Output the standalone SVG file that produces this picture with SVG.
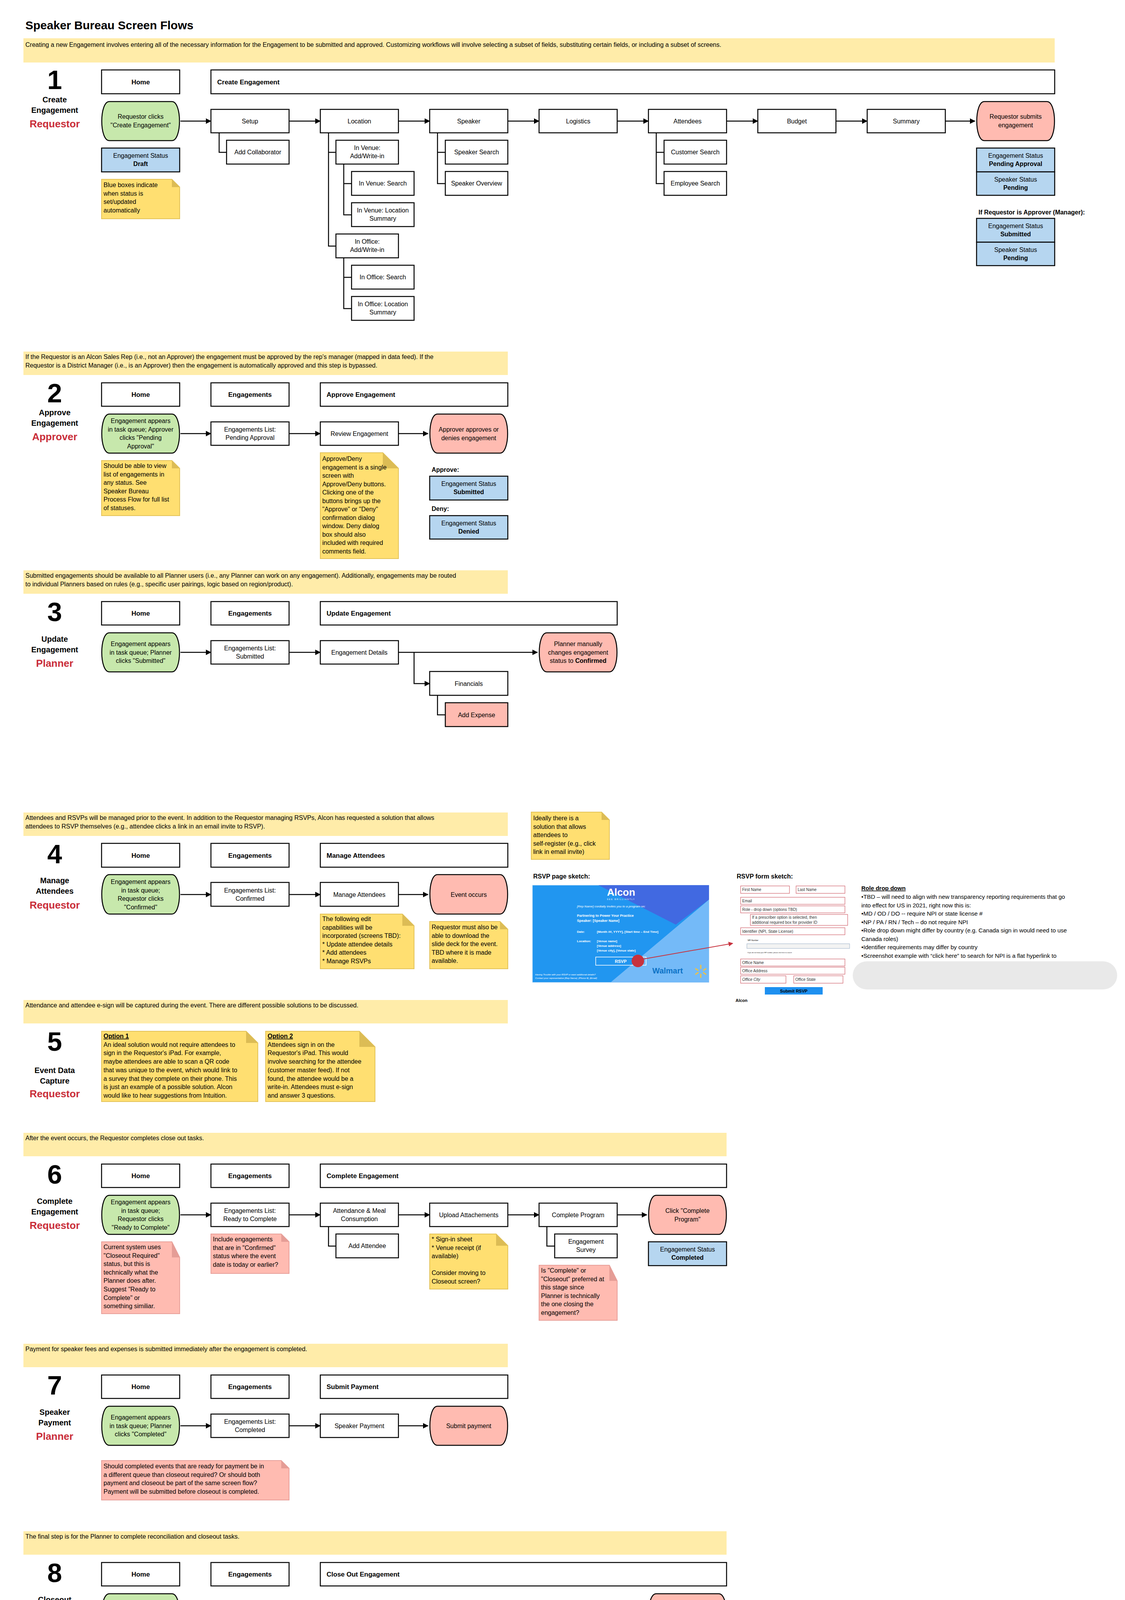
<svg xmlns="http://www.w3.org/2000/svg" width="2880" height="4840" viewBox="0 0 2880 4840">
<style>
text{font-family:"Liberation Sans",Arial,sans-serif;fill:#000}
.box{fill:#fff;stroke:#000;stroke-width:2.5}
.pg{fill:#c7e8ac;stroke:#000;stroke-width:2.5}
.pr{fill:#ffbbb1;stroke:#000;stroke-width:2.5}
.bl{fill:#b6d6f0;stroke:#000;stroke-width:2.5}
.ban{fill:#ffeca9}
.ny{fill:#ffdf71;stroke:#e3c35a;stroke-width:2}
.nyf{fill:#dcbc55}
.nr{fill:#ffbbb1;stroke:#e8a09a;stroke-width:2}
.nrf{fill:#e59d96}
.t{font-size:16px}
.c{text-anchor:middle}
.h{font-size:17px;font-weight:bold}
.num{font-size:68px;font-weight:bold;text-anchor:middle}
.lab{font-size:20px;font-weight:bold;text-anchor:middle}
.role{font-size:26px;font-weight:bold;text-anchor:middle;fill:#c92d39}
.b{font-weight:bold}
.con{fill:none;stroke:#000;stroke-width:2.5}
.arr{marker-end:url(#ah)}
.fld{fill:#fff;stroke:#d0616b;stroke-width:1.2}
.ft{font-size:10px;fill:#333}
.w{fill:#fff}
.role2{font-size:15px}
</style>
<defs>
<marker id="ah" markerUnits="userSpaceOnUse" markerWidth="14" markerHeight="14" refX="13" refY="7" orient="auto"><path d="M0,0 L14,7 L0,14 z" fill="#000"/></marker>
<marker id="ahr" markerUnits="userSpaceOnUse" markerWidth="12" markerHeight="12" refX="11" refY="6" orient="auto"><path d="M0,0 L12,6 L0,12 z" fill="#c7323e"/></marker>
</defs>
<rect width="2880" height="4840" fill="#fff"/>
<text x="65" y="75" font-size="30" font-weight="bold">Speaker Bureau Screen Flows</text>

<!-- ===== Section 1 ===== -->
<g id="s1-banner"><rect class="ban" x="60" y="98" width="2640" height="62"/><text class="t" x="65" y="120">Creating a new Engagement involves entering all of the necessary information for the Engagement to be submitted and approved. Customizing workflows will involve selecting a subset of fields, substituting certain fields, or including a subset of screens.</text></g>
<g id="s1-label"><text class="num" x="140" y="228">1</text><text class="lab" x="140" y="262">Create</text><text class="lab" x="140" y="289">Engagement</text><text class="role" x="140" y="326">Requestor</text></g>
<g id="s1-home"><rect class="box" x="260" y="179" width="200" height="61"/><text class="h c" x="360" y="216">Home</text></g>
<g id="s1-create"><rect class="box" x="540" y="179" width="2160" height="61"/><text class="h" x="556" y="216">Create Engagement</text></g>
<g id="s1-start"><path class="pg" d="M280,260 H440 C466,260 466,360 440,360 H280 C254,360 254,260 280,260 Z"/><text class="t c" x="360" y="304">Requestor clicks<tspan x="360" dy="21.5">"Create Engagement"</tspan></text></g>
<g id="s1-setup"><rect class="box" x="540" y="280" width="200" height="60"/><text class="t c" x="640" y="316">Setup</text></g>
<g id="s1-location"><rect class="box" x="820" y="280" width="200" height="60"/><text class="t c" x="920" y="316">Location</text></g>
<g id="s1-speaker"><rect class="box" x="1100" y="280" width="200" height="60"/><text class="t c" x="1200" y="316">Speaker</text></g>
<g id="s1-logistics"><rect class="box" x="1380" y="280" width="200" height="60"/><text class="t c" x="1480" y="316">Logistics</text></g>
<g id="s1-attendees"><rect class="box" x="1660" y="280" width="200" height="60"/><text class="t c" x="1760" y="316">Attendees</text></g>
<g id="s1-budget"><rect class="box" x="1940" y="280" width="200" height="60"/><text class="t c" x="2040" y="316">Budget</text></g>
<g id="s1-summary"><rect class="box" x="2220" y="280" width="200" height="60"/><text class="t c" x="2320" y="316">Summary</text></g>
<g id="s1-submit"><path class="pr" d="M2520,260 H2680 C2706,260 2706,360 2680,360 H2520 C2494,360 2494,260 2520,260 Z"/><text class="t c" x="2600" y="304">Requestor submits<tspan x="2600" dy="21.5">engagement</tspan></text></g>
<g id="s1-addcollab"><rect class="box" x="580" y="359" width="160" height="61"/><text class="t c" x="660" y="395">Add Collaborator</text></g>
<g id="s1-venue-add"><rect class="box" x="860" y="359" width="160" height="61"/><text class="t c" x="940" y="384">In Venue:<tspan x="940" dy="21">Add/Write-in</tspan></text></g>
<g id="s1-venue-search"><rect class="box" x="900" y="439" width="160" height="61"/><text class="t c" x="980" y="475">In Venue: Search</text></g>
<g id="s1-venue-sum"><rect class="box" x="900" y="519" width="160" height="61"/><text class="t c" x="980" y="544">In Venue: Location<tspan x="980" dy="21">Summary</tspan></text></g>
<g id="s1-office-add"><rect class="box" x="860" y="599" width="160" height="61"/><text class="t c" x="940" y="624">In Office:<tspan x="940" dy="21">Add/Write-in</tspan></text></g>
<g id="s1-office-search"><rect class="box" x="900" y="679" width="160" height="61"/><text class="t c" x="980" y="715">In Office: Search</text></g>
<g id="s1-office-sum"><rect class="box" x="900" y="759" width="160" height="61"/><text class="t c" x="980" y="784">In Office: Location<tspan x="980" dy="21">Summary</tspan></text></g>
<g id="s1-spk-search"><rect class="box" x="1140" y="359" width="160" height="61"/><text class="t c" x="1220" y="395">Speaker Search</text></g>
<g id="s1-spk-over"><rect class="box" x="1140" y="439" width="160" height="61"/><text class="t c" x="1220" y="475">Speaker Overview</text></g>
<g id="s1-cust"><rect class="box" x="1700" y="359" width="160" height="61"/><text class="t c" x="1780" y="395">Customer Search</text></g>
<g id="s1-emp"><rect class="box" x="1700" y="439" width="160" height="61"/><text class="t c" x="1780" y="475">Employee Search</text></g>
<g id="s1-draft"><rect class="bl" x="260" y="379" width="200" height="61"/><text class="t c" x="360" y="404">Engagement Status<tspan x="360" dy="21" class="b">Draft</tspan></text></g>
<g id="s1-note"><path class="ny" d="M260,459 H440 L460,479 V560 H260 Z"/><path class="nyf" d="M440,459 V479 H460 Z"/><text class="t" x="265" y="479">Blue boxes indicate<tspan x="265" dy="21.5">when status is</tspan><tspan x="265" dy="21.5">set/updated</tspan><tspan x="265" dy="21.5">automatically</tspan></text></g>
<g id="s1-status1"><rect class="bl" x="2500" y="379" width="200" height="61"/><text class="t c" x="2600" y="404">Engagement Status<tspan x="2600" dy="21" class="b">Pending Approval</tspan></text></g>
<g id="s1-status2"><rect class="bl" x="2500" y="440" width="200" height="60"/><text class="t c" x="2600" y="465">Speaker Status<tspan x="2600" dy="21" class="b">Pending</tspan></text></g>
<text x="2505" y="549" font-size="16" font-weight="bold">If Requestor is Approver (Manager):</text>
<g id="s1-status3"><rect class="bl" x="2500" y="559" width="200" height="61"/><text class="t c" x="2600" y="584">Engagement Status<tspan x="2600" dy="21" class="b">Submitted</tspan></text></g>
<g id="s1-status4"><rect class="bl" x="2500" y="620" width="200" height="60"/><text class="t c" x="2600" y="645">Speaker Status<tspan x="2600" dy="21" class="b">Pending</tspan></text></g>

<!-- ===== Section 2 ===== -->
<g id="s2-banner"><rect class="ban" x="60" y="900" width="1240" height="60"/><text class="t" x="65" y="919">If the Requestor is an Alcon Sales Rep (i.e., not an Approver) the engagement must be approved by the rep's manager (mapped in data feed). If the<tspan x="65" dy="21.5">Requestor is a District Manager (i.e., is an Approver) then the engagement is automatically approved and this step is bypassed.</tspan></text></g>
<g id="s2-label"><text class="num" x="140" y="1030">2</text><text class="lab" x="140" y="1063">Approve</text><text class="lab" x="140" y="1090">Engagement</text><text class="role" x="140" y="1127">Approver</text></g>
<g id="s2-home"><rect class="box" x="260" y="980" width="200" height="60"/><text class="h c" x="360" y="1016">Home</text></g>
<g id="s2-eng"><rect class="box" x="540" y="980" width="200" height="60"/><text class="h c" x="640" y="1016">Engagements</text></g>
<g id="s2-hdr"><rect class="box" x="820" y="980" width="480" height="60"/><text class="h" x="836" y="1016">Approve Engagement</text></g>
<g id="s2-start"><path class="pg" d="M280,1060 H440 C466,1060 466,1160 440,1160 H280 C254,1160 254,1060 280,1060 Z"/><text class="t c" x="360" y="1083">Engagement appears<tspan x="360" dy="21.5">in task queue; Approver</tspan><tspan x="360" dy="21.5">clicks "Pending</tspan><tspan x="360" dy="21.5">Approval"</tspan></text></g>
<g id="s2-list"><rect class="box" x="540" y="1080" width="200" height="60"/><text class="t c" x="640" y="1105">Engagements List:<tspan x="640" dy="21">Pending Approval</tspan></text></g>
<g id="s2-review"><rect class="box" x="820" y="1080" width="200" height="60"/><text class="t c" x="920" y="1116">Review Engagement</text></g>
<g id="s2-end"><path class="pr" d="M1120,1060 H1280 C1306,1060 1306,1160 1280,1160 H1120 C1094,1160 1094,1060 1120,1060 Z"/><text class="t c" x="1200" y="1105">Approver approves or<tspan x="1200" dy="21.5">denies engagement</tspan></text></g>
<g id="s2-note1"><path class="ny" d="M260,1179 H440 L460,1199 V1320 H260 Z"/><path class="nyf" d="M440,1179 V1199 H460 Z"/><text class="t" x="265" y="1198">Should be able to view<tspan x="265" dy="21.5">list of engagements in</tspan><tspan x="265" dy="21.5">any status. See</tspan><tspan x="265" dy="21.5">Speaker Bureau</tspan><tspan x="265" dy="21.5">Process Flow for full list</tspan><tspan x="265" dy="21.5">of statuses.</tspan></text></g>
<g id="s2-note2"><path class="ny" d="M820,1159 H980 L1020,1199 V1430 H820 Z"/><path class="nyf" d="M980,1159 V1199 H1020 Z"/><text class="t" x="825" y="1180">Approve/Deny<tspan x="825" dy="21.5">engagement is a single</tspan><tspan x="825" dy="21.5">screen with</tspan><tspan x="825" dy="21.5">Approve/Deny buttons.</tspan><tspan x="825" dy="21.5">Clicking one of the</tspan><tspan x="825" dy="21.5">buttons brings up the</tspan><tspan x="825" dy="21.5">"Approve" or "Deny"</tspan><tspan x="825" dy="21.5">confirmation dialog</tspan><tspan x="825" dy="21.5">window. Deny dialog</tspan><tspan x="825" dy="21.5">box should also</tspan><tspan x="825" dy="21.5">included with required</tspan><tspan x="825" dy="21.5">comments field.</tspan></text></g>
<text x="1105" y="1208" font-size="16" font-weight="bold">Approve:</text>
<g id="s2-approved"><rect class="bl" x="1100" y="1219" width="200" height="61"/><text class="t c" x="1200" y="1244">Engagement Status<tspan x="1200" dy="21" class="b">Submitted</tspan></text></g>
<text x="1105" y="1308" font-size="16" font-weight="bold">Deny:</text>
<g id="s2-denied"><rect class="bl" x="1100" y="1320" width="200" height="60"/><text class="t c" x="1200" y="1345">Engagement Status<tspan x="1200" dy="21" class="b">Denied</tspan></text></g>

<!-- ===== Section 3 ===== -->
<g id="s3-banner"><rect class="ban" x="60" y="1460" width="1240" height="60"/><text class="t" x="65" y="1479">Submitted engagements should be available to all Planner users (i.e., any Planner can work on any engagement). Additionally, engagements may be routed<tspan x="65" dy="21.5">to individual Planners based on rules (e.g., specific user pairings, logic based on region/product).</tspan></text></g>
<g id="s3-label"><text class="num" x="140" y="1590">3</text><text class="lab" x="140" y="1643">Update</text><text class="lab" x="140" y="1670">Engagement</text><text class="role" x="140" y="1707">Planner</text></g>
<g id="s3-home"><rect class="box" x="260" y="1540" width="200" height="60"/><text class="h c" x="360" y="1576">Home</text></g>
<g id="s3-eng"><rect class="box" x="540" y="1540" width="200" height="60"/><text class="h c" x="640" y="1576">Engagements</text></g>
<g id="s3-hdr"><rect class="box" x="820" y="1540" width="760" height="60"/><text class="h" x="836" y="1576">Update Engagement</text></g>
<g id="s3-start"><path class="pg" d="M280,1620 H440 C466,1620 466,1720 440,1720 H280 C254,1720 254,1620 280,1620 Z"/><text class="t c" x="360" y="1654">Engagement appears<tspan x="360" dy="21.5">in task queue; Planner</tspan><tspan x="360" dy="21.5">clicks "Submitted"</tspan></text></g>
<g id="s3-list"><rect class="box" x="540" y="1640" width="200" height="60"/><text class="t c" x="640" y="1665">Engagements List:<tspan x="640" dy="21">Submitted</tspan></text></g>
<g id="s3-details"><rect class="box" x="820" y="1640" width="200" height="60"/><text class="t c" x="920" y="1676">Engagement Details</text></g>
<g id="s3-end"><path class="pr" d="M1400,1620 H1560 C1586,1620 1586,1720 1560,1720 H1400 C1374,1720 1374,1620 1400,1620 Z"/><text class="t c" x="1480" y="1654">Planner manually<tspan x="1480" dy="21.5">changes engagement</tspan><tspan x="1480" dy="21.5">status to <tspan class="b">Confirmed</tspan></tspan></text></g>
<g id="s3-fin"><rect class="box" x="1100" y="1719" width="200" height="61"/><text class="t c" x="1200" y="1756">Financials</text></g>
<g id="s3-exp"><rect class="pr" x="1140" y="1799" width="160" height="61" style="stroke-width:2.5"/><text class="t c" x="1220" y="1836">Add Expense</text></g>

<!-- ===== Section 4 ===== -->
<g id="s4-banner"><rect class="ban" x="60" y="2080" width="1240" height="60"/><text class="t" x="65" y="2099">Attendees and RSVPs will be managed prior to the event. In addition to the Requestor managing RSVPs, Alcon has requested a solution that allows<tspan x="65" dy="21.5">attendees to RSVP themselves (e.g., attendee clicks a link in an email invite to RSVP).</tspan></text></g>
<g id="s4-label"><text class="num" x="140" y="2210">4</text><text class="lab" x="140" y="2261">Manage</text><text class="lab" x="140" y="2288">Attendees</text><text class="role" x="140" y="2326">Requestor</text></g>
<g id="s4-home"><rect class="box" x="260" y="2159" width="200" height="61"/><text class="h c" x="360" y="2196">Home</text></g>
<g id="s4-eng"><rect class="box" x="540" y="2159" width="200" height="61"/><text class="h c" x="640" y="2196">Engagements</text></g>
<g id="s4-hdr"><rect class="box" x="820" y="2159" width="480" height="61"/><text class="h" x="836" y="2196">Manage Attendees</text></g>
<g id="s4-start"><path class="pg" d="M280,2239 H440 C466,2239 466,2340 440,2340 H280 C254,2340 254,2239 280,2239 Z"/><text class="t c" x="360" y="2263">Engagement appears<tspan x="360" dy="21.5">in task queue;</tspan><tspan x="360" dy="21.5">Requestor clicks</tspan><tspan x="360" dy="21.5">"Confirmed"</tspan></text></g>
<g id="s4-list"><rect class="box" x="540" y="2259" width="200" height="61"/><text class="t c" x="640" y="2285">Engagements List:<tspan x="640" dy="21">Confirmed</tspan></text></g>
<g id="s4-manage"><rect class="box" x="820" y="2259" width="200" height="61"/><text class="t c" x="920" y="2296">Manage Attendees</text></g>
<g id="s4-end"><path class="pr" d="M1120,2239 H1280 C1306,2239 1306,2340 1280,2340 H1120 C1094,2340 1094,2239 1120,2239 Z"/><text class="t c" x="1200" y="2296">Event occurs</text></g>
<g id="s4-note1"><path class="ny" d="M820,2340 H1030 L1060,2370 V2480 H820 Z"/><path class="nyf" d="M1030,2340 V2370 H1060 Z"/><text class="t" x="825" y="2358">The following edit<tspan x="825" dy="21.5">capabilities will be</tspan><tspan x="825" dy="21.5">incorporated (screens TBD):</tspan><tspan x="825" dy="21.5">* Update attendee details</tspan><tspan x="825" dy="21.5">* Add attendees</tspan><tspan x="825" dy="21.5">* Manage RSVPs</tspan></text></g>
<g id="s4-note2"><path class="ny" d="M1100,2359 H1280 L1300,2379 V2480 H1100 Z"/><path class="nyf" d="M1280,2359 V2379 H1300 Z"/><text class="t" x="1105" y="2379">Requestor must also be<tspan x="1105" dy="21.5">able to download the</tspan><tspan x="1105" dy="21.5">slide deck for the event.</tspan><tspan x="1105" dy="21.5">TBD where it is made</tspan><tspan x="1105" dy="21.5">available.</tspan></text></g>
<g id="s4-note3"><path class="ny" d="M1360,2079 H1540 L1560,2099 V2200 H1360 Z"/><path class="nyf" d="M1540,2079 V2099 H1560 Z"/><text class="t" x="1365" y="2100">Ideally there is a<tspan x="1365" dy="21.5">solution that allows</tspan><tspan x="1365" dy="21.5">attendees to</tspan><tspan x="1365" dy="21.5">self-register (e.g., click</tspan><tspan x="1365" dy="21.5">link in email invite)</tspan></text></g>

<!-- RSVP page sketch -->
<text x="1365" y="2249" font-size="16" font-weight="bold">RSVP page sketch:</text>
<g id="rsvp-page">
<rect x="1363" y="2266" width="452" height="249" fill="#2196f0" stroke="#cfe3f5" stroke-width="1"/>
<polygon points="1532,2266 1815,2266 1815,2303 1730,2367" fill="#4169e1"/>
<polygon points="1815,2303 1815,2515 1563,2515" fill="#74baf8"/>
<text class="w c" x="1590" y="2293" font-size="26" font-weight="bold">Alcon</text>
<text class="w c" x="1590" y="2304" font-size="5" letter-spacing="2">SEE BRILLIANTLY</text>
<text class="w" x="1477" y="2323" font-size="8" font-style="italic">[Rep Name] cordially invites you to a program on:</text>
<text class="w" x="1477" y="2347" font-size="9" font-weight="bold">Partnering to Power Your Practice</text>
<text class="w" x="1477" y="2360" font-size="9" font-weight="bold">Speaker:  [Speaker Name]</text>
<text class="w" x="1477" y="2388" font-size="8" font-weight="bold">Date:</text>
<text class="w" x="1528" y="2388" font-size="8" font-weight="bold">[Month ##, YYYY], [Start time – End Time]</text>
<text class="w" x="1477" y="2412" font-size="8" font-weight="bold">Location:</text>
<text class="w" x="1528" y="2412" font-size="8" font-weight="bold">[Venue name]</text>
<text class="w" x="1528" y="2424" font-size="8" font-weight="bold">[Venue address]</text>
<text class="w" x="1528" y="2436" font-size="8" font-weight="bold">[Venue city], [Venue state]</text>
<rect x="1525" y="2450" width="129" height="21" fill="none" stroke="#fff" stroke-width="1.5"/>
<text class="w c" x="1589" y="2465" font-size="11" font-weight="bold">RSVP</text>
<text x="1670" y="2492" font-size="20" font-weight="bold" style="fill:#0b72c6">Walmart</text>
<g stroke="#f6c13b" stroke-width="3" stroke-linecap="round"><line x1="1794" y1="2471" x2="1794" y2="2479"/><line x1="1794" y1="2494" x2="1794" y2="2502"/><line x1="1781" y1="2480" x2="1787" y2="2484"/><line x1="1807" y1="2480" x2="1801" y2="2484"/><line x1="1781" y1="2494" x2="1787" y2="2490"/><line x1="1807" y1="2494" x2="1801" y2="2490"/></g>
<text class="w" x="1370" y="2497" font-size="6" font-style="italic">Having Trouble with your RSVP or want additional details?</text>
<text class="w" x="1370" y="2506" font-size="6" font-style="italic">Contact your representative [Rep Name], [Phone #], [Email]</text>
</g>

<!-- RSVP form sketch -->
<text x="1886" y="2249" font-size="16" font-weight="bold">RSVP form sketch:</text>
<g id="rsvp-form">
<rect class="fld" x="1896" y="2268" width="125" height="19"/><text class="ft" x="1900" y="2281">First Name</text>
<rect class="fld" x="2038" y="2268" width="125" height="19"/><text class="ft" x="2042" y="2281">Last Name</text>
<rect class="fld" x="1896" y="2297" width="267" height="18"/><text class="ft" x="1900" y="2310">Email</text>
<rect class="fld" x="1896" y="2319" width="267" height="18"/><text class="ft" x="1900" y="2332">Role - drop down (options TBD)</text>
<rect class="fld" x="1921" y="2341" width="249" height="28"/><text class="ft" x="1925" y="2352">If a prescriber option is selected, then</text><text class="ft" x="1925" y="2365">additional required box for provider ID</text>
<rect class="fld" x="1896" y="2375" width="267" height="18"/><text class="ft" x="1900" y="2388">Identifier (NPI, State License)</text>
<text x="1914" y="2409" font-size="5" fill="#2d6fd1">NPI Number</text>
<rect x="1912" y="2416" width="263" height="12" fill="#f3f3f3" stroke="#9ab0c8" stroke-width="1"/>
<text x="1914" y="2440" font-size="4" fill="#555">If you do not know your NPI number, please click here to search</text>
<rect class="fld" x="1896" y="2455" width="267" height="18"/><text class="ft" x="1900" y="2468">Office Name</text>
<rect class="fld" x="1896" y="2476" width="267" height="18"/><text class="ft" x="1900" y="2489">Office Address</text>
<rect class="fld" x="1896" y="2498" width="116" height="19"/><text class="ft" x="1900" y="2511" font-style="italic">Office City</text>
<rect class="fld" x="2032" y="2498" width="126" height="19"/><text class="ft" x="2036" y="2511">Office State</text>
<rect x="1958" y="2527" width="148" height="19" fill="#1e90f0"/><text class="c" x="2032" y="2541" font-size="11" font-weight="bold" fill="#fff">Submit RSVP</text>
<text x="1883" y="2565" font-size="11" font-weight="bold" fill="#1b4fb0">Alcon</text>
</g>
<g id="role-text">
<rect x="2183" y="2461" width="677" height="72" rx="36" fill="#e9e9e9"/>
<text x="2205" y="2279" class="role2" font-weight="bold" text-decoration="underline">Role drop down</text>
<text class="role2" x="2205" y="2301">•TBD – will need to align with new transparency reporting requirements that go<tspan x="2205" dy="21.5">into effect for US in 2021, right now this is:</tspan><tspan x="2205" dy="21.5">•MD / OD / DO -- require NPI or state license #</tspan><tspan x="2205" dy="21.5">•NP / PA / RN / Tech – do not require NPI</tspan><tspan x="2205" dy="21.5">•Role drop down might differ by country (e.g. Canada sign in would need to use</tspan><tspan x="2205" dy="21.5">Canada roles)</tspan><tspan x="2205" dy="21.5">•Identifier requirements may differ by country</tspan><tspan x="2205" dy="21.5">•Screenshot example with “click here” to search for NPI is a flat hyperlink to</tspan></text>
</g>

<!-- ===== Section 5 ===== -->
<g id="s5-banner"><rect class="ban" x="60" y="2560" width="1240" height="60"/><text class="t" x="65" y="2579">Attendance and attendee e-sign will be captured during the event. There are different possible solutions to be discussed.</text></g>
<g id="s5-label"><text class="num" x="140" y="2690">5</text><text class="lab" x="140" y="2747">Event Data</text><text class="lab" x="140" y="2774">Capture</text><text class="role" x="140" y="2809">Requestor</text></g>
<g id="s5-opt1"><path class="ny" d="M260,2640 H630 L660,2670 V2820 H260 Z"/><path class="nyf" d="M630,2640 V2670 H660 Z"/><text class="t" x="265" y="2658"><tspan class="b" text-decoration="underline">Option 1</tspan><tspan x="265" dy="21.7">An ideal solution would not require attendees to</tspan><tspan x="265" dy="21.7">sign in the Requestor's iPad. For example,</tspan><tspan x="265" dy="21.7">maybe attendees are able to scan a QR code</tspan><tspan x="265" dy="21.7">that was unique to the event, which would link to</tspan><tspan x="265" dy="21.7">a survey that they complete on their phone. This</tspan><tspan x="265" dy="21.7">is just an example of a possible solution. Alcon</tspan><tspan x="265" dy="21.7">would like to hear suggestions from Intuition.</tspan></text></g>
<g id="s5-opt2"><path class="ny" d="M680,2640 H920 L960,2680 V2820 H680 Z"/><path class="nyf" d="M920,2640 V2680 H960 Z"/><text class="t" x="685" y="2658"><tspan class="b" text-decoration="underline">Option 2</tspan><tspan x="685" dy="21.7">Attendees sign in on the</tspan><tspan x="685" dy="21.7">Requestor's iPad. This would</tspan><tspan x="685" dy="21.7">involve searching for the attendee</tspan><tspan x="685" dy="21.7">(customer master feed). If not</tspan><tspan x="685" dy="21.7">found, the attendee would be a</tspan><tspan x="685" dy="21.7">write-in. Attendees must e-sign</tspan><tspan x="685" dy="21.7">and answer 3 questions.</tspan></text></g>

<!-- ===== Section 6 ===== -->
<g id="s6-banner"><rect class="ban" x="60" y="2900" width="1800" height="60"/><text class="t" x="65" y="2919">After the event occurs, the Requestor completes close out tasks.</text></g>
<g id="s6-label"><text class="num" x="140" y="3030">6</text><text class="lab" x="140" y="3082">Complete</text><text class="lab" x="140" y="3109">Engagement</text><text class="role" x="140" y="3146">Requestor</text></g>
<g id="s6-home"><rect class="box" x="260" y="2980" width="200" height="60"/><text class="h c" x="360" y="3016">Home</text></g>
<g id="s6-eng"><rect class="box" x="540" y="2980" width="200" height="60"/><text class="h c" x="640" y="3016">Engagements</text></g>
<g id="s6-hdr"><rect class="box" x="820" y="2980" width="1040" height="60"/><text class="h" x="836" y="3016">Complete Engagement</text></g>
<g id="s6-start"><path class="pg" d="M280,3060 H440 C466,3060 466,3160 440,3160 H280 C254,3160 254,3060 280,3060 Z"/><text class="t c" x="360" y="3083">Engagement appears<tspan x="360" dy="21.5">in task queue;</tspan><tspan x="360" dy="21.5">Requestor clicks</tspan><tspan x="360" dy="21.5">"Ready to Complete"</tspan></text></g>
<g id="s6-list"><rect class="box" x="540" y="3080" width="200" height="60"/><text class="t c" x="640" y="3105">Engagements List:<tspan x="640" dy="21">Ready to Complete</tspan></text></g>
<g id="s6-attend"><rect class="box" x="820" y="3080" width="200" height="60"/><text class="t c" x="920" y="3105">Attendance &amp; Meal<tspan x="920" dy="21">Consumption</tspan></text></g>
<g id="s6-upload"><rect class="box" x="1100" y="3080" width="200" height="60"/><text class="t c" x="1200" y="3116">Upload Attachements</text></g>
<g id="s6-program"><rect class="box" x="1380" y="3080" width="200" height="60"/><text class="t c" x="1480" y="3116">Complete Program</text></g>
<g id="s6-end"><path class="pr" d="M1680,3060 H1840 C1866,3060 1866,3160 1840,3160 H1680 C1654,3160 1654,3060 1680,3060 Z"/><text class="t c" x="1760" y="3105">Click "Complete<tspan x="1760" dy="21.5">Program"</tspan></text></g>
<g id="s6-addatt"><rect class="box" x="860" y="3159" width="160" height="61"/><text class="t c" x="940" y="3195">Add Attendee</text></g>
<g id="s6-survey"><rect class="box" x="1420" y="3159" width="160" height="61"/><text class="t c" x="1500" y="3184">Engagement<tspan x="1500" dy="21">Survey</tspan></text></g>
<g id="s6-status"><rect class="bl" x="1660" y="3179" width="200" height="61"/><text class="t c" x="1760" y="3204">Engagement Status<tspan x="1760" dy="21" class="b">Completed</tspan></text></g>
<g id="s6-note1"><path class="nr" d="M260,3179 H440 L460,3219 V3363 H260 Z"/><path class="nrf" d="M440,3179 V3219 H460 Z"/><text class="t" x="265" y="3198">Current system uses<tspan x="265" dy="21.6">"Closeout Required"</tspan><tspan x="265" dy="21.6">status, but this is</tspan><tspan x="265" dy="21.6">technically what the</tspan><tspan x="265" dy="21.6">Planner does after.</tspan><tspan x="265" dy="21.6">Suggest "Ready to</tspan><tspan x="265" dy="21.6">Complete" or</tspan><tspan x="265" dy="21.6">something similiar.</tspan></text></g>
<g id="s6-note2"><path class="nr" d="M540,3159 H720 L740,3179 V3260 H540 Z"/><path class="nrf" d="M720,3159 V3179 H740 Z"/><text class="t" x="545" y="3178">Include engagements<tspan x="545" dy="21.6">that are in "Confirmed"</tspan><tspan x="545" dy="21.6">status where the event</tspan><tspan x="545" dy="21.6">date is today or earlier?</tspan></text></g>
<g id="s6-note3"><path class="ny" d="M1100,3159 H1270 L1300,3189 V3300 H1100 Z"/><path class="nyf" d="M1270,3159 V3189 H1300 Z"/><text class="t" x="1105" y="3178">* Sign-in sheet<tspan x="1105" dy="21.6">* Venue receipt (if</tspan><tspan x="1105" dy="21.6">available)</tspan><tspan x="1105" dy="43.2">Consider moving to</tspan><tspan x="1105" dy="21.6">Closeout screen?</tspan></text></g>
<g id="s6-note4"><path class="nr" d="M1380,3239 H1560 L1580,3279 V3380 H1380 Z"/><path class="nrf" d="M1560,3239 V3279 H1580 Z"/><text class="t" x="1385" y="3258">Is "Complete" or<tspan x="1385" dy="21.6">"Closeout" preferred at</tspan><tspan x="1385" dy="21.6">this stage since</tspan><tspan x="1385" dy="21.6">Planner is technically</tspan><tspan x="1385" dy="21.6">the one closing the</tspan><tspan x="1385" dy="21.6">engagement?</tspan></text></g>

<!-- ===== Section 7 ===== -->
<g id="s7-banner"><rect class="ban" x="60" y="3440" width="1240" height="60"/><text class="t" x="65" y="3459">Payment for speaker fees and expenses is submitted immediately after the engagement is completed.</text></g>
<g id="s7-label"><text class="num" x="140" y="3570">7</text><text class="lab" x="140" y="3622">Speaker</text><text class="lab" x="140" y="3649">Payment</text><text class="role" x="140" y="3686">Planner</text></g>
<g id="s7-home"><rect class="box" x="260" y="3520" width="200" height="60"/><text class="h c" x="360" y="3556">Home</text></g>
<g id="s7-eng"><rect class="box" x="540" y="3520" width="200" height="60"/><text class="h c" x="640" y="3556">Engagements</text></g>
<g id="s7-hdr"><rect class="box" x="820" y="3520" width="480" height="60"/><text class="h" x="836" y="3556">Submit Payment</text></g>
<g id="s7-start"><path class="pg" d="M280,3600 H440 C466,3600 466,3700 440,3700 H280 C254,3700 254,3600 280,3600 Z"/><text class="t c" x="360" y="3634">Engagement appears<tspan x="360" dy="21.5">in task queue; Planner</tspan><tspan x="360" dy="21.5">clicks "Completed"</tspan></text></g>
<g id="s7-list"><rect class="box" x="540" y="3620" width="200" height="60"/><text class="t c" x="640" y="3645">Engagements List:<tspan x="640" dy="21">Completed</tspan></text></g>
<g id="s7-pay"><rect class="box" x="820" y="3620" width="200" height="60"/><text class="t c" x="920" y="3656">Speaker Payment</text></g>
<g id="s7-end"><path class="pr" d="M1120,3600 H1280 C1306,3600 1306,3700 1280,3700 H1120 C1094,3700 1094,3600 1120,3600 Z"/><text class="t c" x="1200" y="3656">Submit payment</text></g>
<g id="s7-note"><path class="nr" d="M260,3739 H720 L740,3759 V3840 H260 Z"/><path class="nrf" d="M720,3739 V3759 H740 Z"/><text class="t" x="265" y="3759">Should completed events that are ready for payment be in<tspan x="265" dy="21.6">a different queue than closeout required? Or should both</tspan><tspan x="265" dy="21.6">payment and closeout be part of the same screen flow?</tspan><tspan x="265" dy="21.6">Payment will be submitted before closeout is completed.</tspan></text></g>

<!-- ===== Section 8 ===== -->
<g id="s8-banner"><rect class="ban" x="60" y="3920" width="1800" height="60"/><text class="t" x="65" y="3939">The final step is for the Planner to complete reconciliation and closeout tasks.</text></g>
<g id="s8-label"><text class="num" x="140" y="4050">8</text><text class="lab" x="140" y="4102">Closeout</text><text class="lab" x="140" y="4129">Engagement</text><text class="role" x="140" y="4166">Planner</text></g>
<g id="s8-home"><rect class="box" x="260" y="4000" width="200" height="60"/><text class="h c" x="360" y="4036">Home</text></g>
<g id="s8-eng"><rect class="box" x="540" y="4000" width="200" height="60"/><text class="h c" x="640" y="4036">Engagements</text></g>
<g id="s8-hdr"><rect class="box" x="820" y="4000" width="1040" height="60"/><text class="h" x="836" y="4036">Close Out Engagement</text></g>
<g id="s8-start"><path class="pg" d="M280,4080 H440 C466,4080 466,4180 440,4180 H280 C254,4180 254,4080 280,4080 Z"/><text class="t c" x="360" y="4114">Engagement appears<tspan x="360" dy="21.5">in task queue; Planner</tspan><tspan x="360" dy="21.5">clicks "Completed"</tspan></text></g>
<g id="s8-list"><rect class="box" x="540" y="4100" width="200" height="60"/><text class="t c" x="640" y="4125">Engagements List:<tspan x="640" dy="21">Completed</tspan></text></g>
<g id="s8-count"><rect class="box" x="820" y="4100" width="200" height="60"/><text class="t c" x="920" y="4125">Attendee Count &amp; Meal<tspan x="920" dy="21">Spend</tspan></text></g>
<g id="s8-fin"><rect class="box" x="1100" y="4100" width="200" height="60"/><text class="t c" x="1200" y="4136">Financials</text></g>
<g id="s8-sum"><rect class="box" x="1380" y="4100" width="200" height="60"/><text class="t c" x="1480" y="4136">Summary</text></g>
<g id="s8-end"><path class="pr" d="M1680,4080 H1840 C1866,4080 1866,4180 1840,4180 H1680 C1654,4180 1654,4080 1680,4080 Z"/><text class="t c" x="1760" y="4114">Planner manually<tspan x="1760" dy="21.5">changes engagement</tspan><tspan x="1760" dy="21.5">status to <tspan class="b">Closed</tspan></tspan></text></g>
<g id="s8-note1"><path class="ny" d="M820,4179 H1010 L1020,4189 V4240 H820 Z"/><path class="nyf" d="M1010,4179 V4189 H1020 Z"/><text class="t" x="825" y="4199">Screens are TBD</text></g>
<g id="s8-note2"><path class="nr" d="M820,4259 H1010 L1020,4269 V4320 H820 Z"/><path class="nrf" d="M1010,4259 V4269 H1020 Z"/><text class="t" x="825" y="4279">Kevin to confirm fields<tspan x="825" dy="21.5">required by Planner</tspan></text></g>

<!-- ===== Section X ===== -->
<g id="sx-banner"><rect class="ban" x="60" y="4400" width="1240" height="60"/><text class="t" x="65" y="4419">An engagement can be cancelled at any point by the Planner</text></g>
<g id="sx-label"><text class="num" x="140" y="4530">X</text><text class="lab" x="140" y="4582">Cancel</text><text class="lab" x="140" y="4609">Engagement</text><text class="role" x="140" y="4646">Planner</text></g>
<g id="sx-upd"><rect class="box" x="260" y="4480" width="200" height="60"/><text class="h c" x="360" y="4505">Update<tspan x="360" dy="22">Engagement</tspan></text></g>
<g id="sx-hdr"><rect class="box" x="540" y="4480" width="760" height="60"/><text class="h" x="556" y="4516">Close Out Engagement</text></g>
<g id="sx-start"><path class="pg" d="M280,4560 H440 C466,4560 466,4660 440,4660 H280 C254,4660 254,4560 280,4560 Z"/><text class="t c" x="360" y="4594">Planner manually<tspan x="360" dy="21.5">changes engagement</tspan><tspan x="360" dy="21.5">status to <tspan class="b">Cancelled</tspan></tspan></text></g>
<g id="sx-fin"><rect class="box" x="540" y="4580" width="200" height="60"/><text class="t c" x="640" y="4616">Financials</text></g>
<g id="sx-sum"><rect class="box" x="820" y="4580" width="200" height="60"/><text class="t c" x="920" y="4616">Summary</text></g>
<g id="sx-end"><path class="pr" d="M1120,4560 H1280 C1306,4560 1306,4660 1280,4660 H1120 C1094,4660 1094,4560 1120,4560 Z"/><text class="t c" x="1200" y="4584">Planner manually<tspan x="1200" dy="21.5">changes engagement</tspan><tspan x="1200" dy="21.5">status to <tspan class="b">Closed</tspan></tspan><tspan x="1200" dy="21.5" class="b">Cancellation</tspan></text></g>
<g id="sx-note1"><path class="ny" d="M540,4660 H730 L740,4670 V4720 H540 Z"/><path class="nyf" d="M730,4660 V4670 H740 Z"/><text class="t" x="545" y="4680">Screens are TBD</text></g>
<g id="sx-note2"><path class="nr" d="M540,4740 H730 L740,4750 V4800 H540 Z"/><path class="nrf" d="M730,4740 V4750 H740 Z"/><text class="t" x="545" y="4760">Kevin to confirm fields<tspan x="545" dy="21.5">required by Planner</tspan></text></g>

<!-- ===== Connectors ===== -->
<g id="connectors">
<path class="con arr" d="M462,310 H540"/><path class="con arr" d="M740,310 H820"/><path class="con arr" d="M1020,310 H1100"/><path class="con arr" d="M1300,310 H1380"/><path class="con arr" d="M1580,310 H1660"/><path class="con arr" d="M1860,310 H1940"/><path class="con arr" d="M2140,310 H2220"/><path class="con arr" d="M2420,310 H2496"/>
<path class="con" d="M561,340 V390 H580"/>
<path class="con" d="M841,340 V630 H860 M841,390 H860"/>
<path class="con" d="M880,420 V550 H900 M880,470 H900"/>
<path class="con" d="M880,660 V790 H900 M880,710 H900"/>
<path class="con" d="M1120,340 V470 H1140 M1120,390 H1140"/>
<path class="con" d="M1680,340 V470 H1700 M1680,390 H1700"/>
<path class="con arr" d="M462,1110 H540"/><path class="con arr" d="M740,1110 H820"/><path class="con arr" d="M1020,1110 H1096"/>
<path class="con arr" d="M462,1670 H540"/><path class="con arr" d="M740,1670 H820"/><path class="con arr" d="M1020,1670 H1376"/>
<path class="con arr" d="M1060,1670 V1750 H1100"/>
<path class="con" d="M1120,1780 V1830 H1140"/>
<path class="con arr" d="M462,2290 H540"/><path class="con arr" d="M740,2290 H820"/><path class="con arr" d="M1020,2290 H1096"/>
<path d="M1648,2455 L1876,2415" fill="none" stroke="#c7323e" stroke-width="2" marker-end="url(#ahr)"/>
<circle cx="1633" cy="2460" r="16" fill="#c7323e"/>
<path class="con arr" d="M462,3110 H540"/><path class="con arr" d="M740,3110 H820"/><path class="con arr" d="M1020,3110 H1100"/><path class="con arr" d="M1300,3110 H1380"/><path class="con arr" d="M1580,3110 H1656"/>
<path class="con" d="M841,3140 V3190 H860"/>
<path class="con" d="M1400,3140 V3190 H1420"/>
<path class="con arr" d="M462,3650 H540"/><path class="con arr" d="M740,3650 H820"/><path class="con arr" d="M1020,3650 H1096"/>
<path class="con arr" d="M462,4130 H540"/><path class="con arr" d="M740,4130 H820"/><path class="con arr" d="M1020,4130 H1100"/><path class="con arr" d="M1300,4130 H1380"/><path class="con arr" d="M1580,4130 H1656"/>
<path class="con arr" d="M462,4610 H540"/><path class="con arr" d="M740,4610 H820"/><path class="con arr" d="M1020,4610 H1096"/>
</g>
</svg>
